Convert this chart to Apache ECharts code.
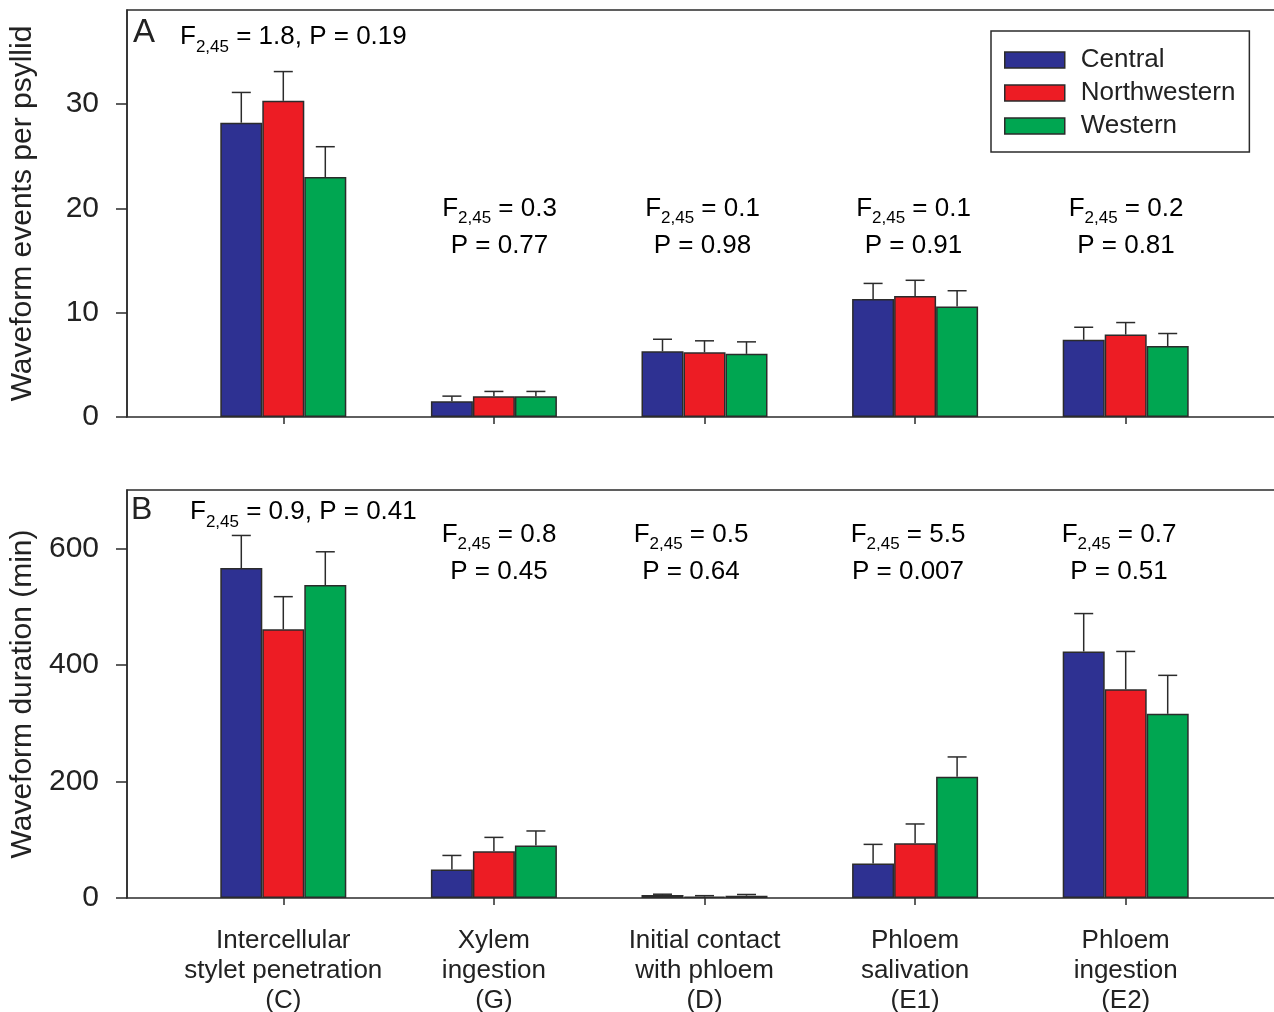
<!DOCTYPE html>
<html>
<head>
<meta charset="utf-8">
<script src="https://cdn.jsdelivr.net/npm/echarts@6/dist/echarts.min.js"></script>
<style>html,body{margin:0;padding:0;background:#fff;}#c{width:1274px;height:1012px;}</style>
</head>
<body>
<div id="c"></div>
<script>
// ---------- data ----------
const categories = ['Intercellular\nstylet penetration\n(C)', 'Xylem\ningestion\n(G)', 'Initial contact\nwith phloem\n(D)', 'Phloem\nsalivation\n(E1)', 'Phloem\ningestion\n(E2)'];
const seriesNames = ['Central', 'Northwestern', 'Western'];

// Panel A: waveform events per psyllid (mean, SE)
const eventsCentral = [28.2, 1.5, 6.3, 11.3, 7.4];
const eventsCentralErr = [2.9, 0.5, 1.15, 1.5, 1.2];
const eventsNorthwestern = [30.3, 2.0, 6.2, 11.6, 7.9];
const eventsNorthwesternErr = [2.8, 0.45, 1.1, 1.5, 1.15];
const eventsWestern = [23.0, 2.0, 6.05, 10.6, 6.8];
const eventsWesternErr = [2.9, 0.45, 1.15, 1.5, 1.2];

// Panel B: waveform duration (min) (mean, SE)
const durationCentral = [566, 49, 5, 59, 423];
const durationCentralErr = [56, 24, 1.5, 33, 65];
const durationNorthwestern = [461, 80, 2.5, 94, 358];
const durationNorthwesternErr = [56, 24, 1.5, 33, 65];
const durationWestern = [537, 90, 4, 208, 316];
const durationWesternErr = [57, 25, 2, 34, 66];

// Tick values
const eventsTicks = [0, 10, 20, 30];
const durationTicks = [0, 200, 400, 600];

// Statistics text
const eventsF = ['1.8', '0.3', '0.1', '0.1', '0.2'];
const eventsP = ['0.19', '0.77', '0.98', '0.91', '0.81'];
const durationF = ['0.9', '0.8', '0.5', '5.5', '0.7'];
const durationP = ['0.41', '0.45', '0.64', '0.007', '0.51'];

// ---------- style ----------
const FONT = '"Liberation Sans", Arial, Helvetica, sans-serif';
const INK = '#222';
const LINE = '#2b2b2b';
const colors = ['#2E3192', '#ED1C24', '#00A651'];
const BAR_W = 42;

const chart = echarts.init(document.getElementById('c'), null, {renderer: 'canvas'});

function errSeries(name, values, errs, gridIdx, k) {
  return {
    type: 'custom',
    name: name,
    xAxisIndex: gridIdx, yAxisIndex: gridIdx,
    z: 3,
    silent: true,
    data: values.map((v, i) => [i, v, errs[i]]),
    renderItem: function (params, api) {
      const i = api.value(0), v = api.value(1), e = api.value(2);
      const base = api.coord([i, v]);
      const top = api.coord([i, v + e]);
      const cx = base[0] + (k - 1) * BAR_W;
      const half = 9.5;
      return {
        type: 'group',
        children: [
          {type: 'line', shape: {x1: cx, y1: base[1], x2: cx, y2: top[1]}, style: {stroke: LINE, lineWidth: 1.5}},
          {type: 'line', shape: {x1: cx - half, y1: top[1], x2: cx + half, y2: top[1]}, style: {stroke: LINE, lineWidth: 1.5}}
        ]
      };
    }
  };
}

function barSeries(name, values, gridIdx, k) {
  return {
    type: 'bar',
    name: name,
    xAxisIndex: gridIdx, yAxisIndex: gridIdx,
    data: values,
    barWidth: BAR_W,
    barGap: '0%',
    itemStyle: {color: colors[k], borderColor: LINE, borderWidth: 1.5},
    emphasis: {disabled: true},
    z: 2
  };
}

function yAxisCfg(gridIdx, max, ticks, name) {
  return {
    type: 'value', gridIndex: gridIdx, min: 0, max: max,
    offset: 51,
    name: name, nameLocation: 'middle', nameGap: 89,
    nameTextStyle: {fontFamily: FONT, fontSize: 30, color: INK},
    axisLine: {show: true, lineStyle: {color: LINE, width: 1.5}},
    axisTick: {show: true, length: 11, customValues: ticks, lineStyle: {color: LINE, width: 1.5}},
    axisLabel: {show: true, margin: 28, customValues: ticks, fontFamily: FONT, fontSize: 30, color: INK},
    splitLine: {show: false}
  };
}

function xAxisCfg(gridIdx, showLabel) {
  return {
    type: 'category', gridIndex: gridIdx, data: categories,
    boundaryGap: true,
    axisLine: {show: false},
    axisTick: {show: true, alignWithLabel: true, length: 7, lineStyle: {color: LINE, width: 1.5}},
    axisLabel: {show: showLabel, interval: 0, margin: 28, fontFamily: FONT, fontSize: 26, lineHeight: 30, color: INK},
    splitLine: {show: false}
  };
}

const frameAxisX = (g) => ({type: 'value', gridIndex: g, show: false});
const frameAxisY = (g) => ({type: 'value', gridIndex: g, show: false});

const statRich = {
  n: {fontFamily: FONT, fontSize: 26, color: INK, lineHeight: 37, verticalAlign: 'middle'},
  s: {fontFamily: FONT, fontSize: 17, color: INK, lineHeight: 14, verticalAlign: 'bottom'}
};

function stat2(x, y, f, p) {
  return {
    type: 'text', x: x, y: y, silent: true, z: 10,
    style: {
      text: '{n|F}{s|2,45}{n| = ' + f + '}\n{n|P = ' + p + '}',
      rich: statRich, align: 'center', verticalAlign: 'middle'
    }
  };
}
function stat1(x, y, f, p) {
  return {
    type: 'text', x: x, y: y, silent: true, z: 10,
    style: {
      text: '{n|F}{s|2,45}{n| = ' + f + ', P = ' + p + '}',
      rich: statRich, align: 'left', verticalAlign: 'middle'
    }
  };
}

const statXA = [0, 499.5, 702.5, 913.5, 1126];
const statXB = [0, 499, 691, 908, 1119];

const graphics = [
  {type: 'text', x: 133, y: 33, silent: true, style: {text: 'A', fontFamily: FONT, fontSize: 33, fill: INK, align: 'left', verticalAlign: 'middle'}},
  {type: 'text', x: 131, y: 510, silent: true, style: {text: 'B', fontFamily: FONT, fontSize: 32, fill: INK, align: 'left', verticalAlign: 'middle'}},
  stat1(180, 37, eventsF[0], eventsP[0]),
  stat1(190, 512, durationF[0], durationP[0])
];
for (let i = 1; i < 5; i++) {
  graphics.push(stat2(statXA[i], 227, eventsF[i], eventsP[i]));
  graphics.push(stat2(statXB[i], 553, durationF[i], durationP[i]));
}

const frameGrid = (top, bottom) => ({
  left: 127, width: 1220, top: top, bottom: bottom,
  outerBoundsMode: 'none', containLabel: false,
  show: true, borderColor: LINE, borderWidth: 1.5, backgroundColor: 'transparent', z: 0
});

const option = {
  animation: false,
  backgroundColor: '#fff',
  textStyle: {fontFamily: FONT},
  grid: [
    {left: 178, right: 43, top: 10, bottom: 595, outerBoundsMode: 'none'},
    {left: 178, right: 43, top: 490, bottom: 114, outerBoundsMode: 'none'},
    frameGrid(10, 595),
    frameGrid(490, 114)
  ],
  xAxis: [xAxisCfg(0, false), xAxisCfg(1, true), frameAxisX(2), frameAxisX(3)],
  yAxis: [
    yAxisCfg(0, 39, eventsTicks, 'Waveform events per psyllid'),
    yAxisCfg(1, 700, durationTicks, 'Waveform duration (min)'),
    frameAxisY(2), frameAxisY(3)
  ],
  legend: {
    data: seriesNames,
    orient: 'vertical',
    left: 991, top: 31,
    padding: [16, 14, 13, 13],
    itemWidth: 60, itemHeight: 16, itemGap: 7,
    icon: 'rect',
    borderColor: LINE, borderWidth: 1.5,
    backgroundColor: '#fff',
    selectedMode: false,
    itemStyle: {borderColor: LINE, borderWidth: 1.5},
    textStyle: {fontFamily: FONT, fontSize: 26, color: INK, padding: [0, 0, 0, 11]}
  },
  series: [
    barSeries('Central', eventsCentral, 0, 0),
    barSeries('Northwestern', eventsNorthwestern, 0, 1),
    barSeries('Western', eventsWestern, 0, 2),
    barSeries('Central', durationCentral, 1, 0),
    barSeries('Northwestern', durationNorthwestern, 1, 1),
    barSeries('Western', durationWestern, 1, 2),
    errSeries('Central', eventsCentral, eventsCentralErr, 0, 0),
    errSeries('Northwestern', eventsNorthwestern, eventsNorthwesternErr, 0, 1),
    errSeries('Western', eventsWestern, eventsWesternErr, 0, 2),
    errSeries('Central', durationCentral, durationCentralErr, 1, 0),
    errSeries('Northwestern', durationNorthwestern, durationNorthwesternErr, 1, 1),
    errSeries('Western', durationWestern, durationWesternErr, 1, 2)
  ],
  graphic: graphics
};
chart.setOption(option);
</script>
</body>
</html>
